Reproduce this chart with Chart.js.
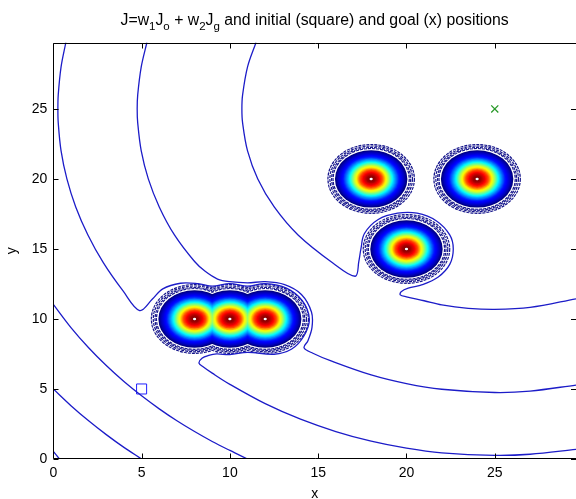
<!DOCTYPE html>
<html><head><meta charset="utf-8">
<script src="https://cdn.jsdelivr.net/npm/chart.js@4.4.0/dist/chart.umd.min.js"></script>
<style>html,body{margin:0;padding:0;background:#fff;}#wrap{width:576px;height:499px;}</style>
</head><body><div id="wrap"><canvas id="c" width="576" height="499"></canvas></div>
<script>
// ---- data ----
const xTicks = [0, 5, 10, 15, 20, 25];
const yTicks = [0, 5, 10, 15, 20, 25];
const xMax = 29.6, yMax = 29.74;

// obstacle centres and the radii of their contour rings / filled levels (data units)
const obstacles = [{x:8,y:10},{x:10,y:10},{x:12,y:10},{x:18,y:20},{x:24,y:20},{x:20,y:15}];
const ringRadii = [2.42, 2.31, 2.21, 2.13];
const fillRadius = [2.05, 1.9, 1.6, 1.25, 1.0, 0.85, 0.66, 0.45, 0.25, 0.1];
const fillLevel  = [0.0, 0.06, 0.15, 0.36, 0.55, 0.64, 0.8, 0.9, 0.97, 1.0];

// contour lines of J
const contourA = [{x:0,y:0.55},{x:0.35,y:0}];
const contourB = [{x:0,y:5},{x:1,y:3.81},{x:2,y:2.73},{x:3,y:1.74},{x:4,y:0.83},{x:5,y:0}];
const contourC = [{x:0,y:11.04},{x:1,y:9.38},{x:2,y:7.94},{x:3,y:6.67},{x:4,y:5.53},{x:5,y:4.51},
  {x:6,y:3.58},{x:7,y:2.73},{x:8,y:1.96},{x:9,y:1.25},{x:10,y:0.61},{x:11,y:0}];
const contourD = [{x:0.71,y:29.74},{x:0.44,y:28},{x:0.28,y:26},{x:0.26,y:25},{x:0.28,y:24},{x:0.44,y:22},
  {x:0.77,y:20},{x:1.27,y:18},{x:1.96,y:16},{x:2.84,y:14},{x:3.95,y:12},{x:4.89,y:10.6},
  {x:5.6,y:11.4},{x:6.2,y:12.15},{x:7.2,y:12.55},{x:8.2,y:12.52},{x:9,y:12.35},{x:10,y:12.52},{x:11,y:12.35},
  {x:12,y:12.52},{x:13.2,y:12.2},{x:14.1,y:11.3},{x:14.5,y:10},{x:14.2,y:8.8},{x:13.5,y:7.85},
  {x:12.5,y:7.48},{x:11,y:7.62},{x:10,y:7.45},{x:9.25,y:7.5},{x:8.8,y:7.4},{x:8.42,y:7.2},{x:8.25,y:6.85},
  {x:8.5,y:6.57},{x:9,y:6.13},{x:10,y:5.33},{x:12,y:3.95},{x:14,y:2.84},{x:16,y:1.96},{x:18,y:1.27},
  {x:20,y:0.77},{x:22,y:0.44},{x:25,y:0.26},{x:27,y:0.34},{x:29.6,y:0.69}];
const contourE = [{x:5.3,y:29.74},{x:4.98,y:28},{x:4.78,y:26},{x:4.75,y:25},{x:4.78,y:24},{x:4.98,y:22},
  {x:5.38,y:20},{x:6.0,y:18},{x:6.86,y:16},{x:8.0,y:14.1},{x:8.6,y:13.4},{x:9.3,y:12.85},{x:10,y:12.66},
  {x:11,y:12.58},{x:12,y:12.66},{x:13.1,y:12.45},{x:14.05,y:11.75},{x:14.62,y:10.5},{x:14.65,y:9.4},
  {x:14.42,y:8.45},{x:14.2,y:7.95},{x:14.7,y:7.55},{x:15.73,y:7.0},{x:18,y:6.0},{x:20,y:5.38},
  {x:22,y:4.98},{x:25,y:4.75},{x:27,y:4.85},{x:29.6,y:5.28}];
const contourG = [{x:11.48,y:29.74},{x:11.0,y:28},{x:10.72,y:26},{x:10.68,y:25},{x:10.72,y:24},{x:11.0,y:22},
  {x:11.58,y:20},{x:12.51,y:18},{x:13.86,y:16},{x:15.83,y:14},{x:17.1,y:13.05},{x:17.3,y:14.1},
  {x:17.42,y:15.0},{x:17.62,y:16.1},{x:18.4,y:17.1},{x:19.5,y:17.55},{x:20.6,y:17.55},{x:21.7,y:17.0},
  {x:22.45,y:16.0},{x:22.65,y:15.0},{x:22.45,y:13.9},{x:21.8,y:13.0},{x:20.9,y:12.45},{x:20.1,y:12.2},
  {x:19.7,y:11.95},{x:19.65,y:11.72},{x:20.0,y:11.58},{x:21,y:11.3},{x:22,y:11.0},{x:23.5,y:10.76},
  {x:25,y:10.68},{x:27,y:10.82},{x:29.6,y:11.44}];
const contours = [contourA, contourB, contourC, contourD, contourE, contourG];

const startPos = [{x:5, y:5}];
const goalPos  = [{x:25, y:25}];

const titleParts = [["J=w",0],["1",1],["J",0],["o",1],[" + w",0],["2",1],["J",0],["g",1],[" and initial (square) and goal (x) positions",0]];

// ---- styling helpers ----
const FONT = 'Arial, "Liberation Sans", Helvetica, sans-serif';
const lineColor = 'rgb(28,28,200)';
const ringColor = 'rgb(22,22,140)';
function jet(t){
  const c = v => Math.round(255*Math.max(0, Math.min(1, v)));
  return `rgb(${c(1.5-Math.abs(4*t-3))},${c(1.5-Math.abs(4*t-2))},${c(1.5-Math.abs(4*t-1))})`;
}
function levelAt(r){
  for (let i=0;i<fillRadius.length-1;i++){
    const a=fillRadius[i], b=fillRadius[i+1];
    if (r<=a && r>=b){ const f=(a-r)/(a-b); return fillLevel[i]+f*(fillLevel[i+1]-fillLevel[i]); }
  }
  return r>fillRadius[0]?fillLevel[0]:fillLevel[fillLevel.length-1];
}

const blobPlugin = {
  id:'blobs',
  beforeDatasetsDraw(chart){
    const {ctx, chartArea:a, scales:{x, y}} = chart;
    const sx = Math.abs(x.getPixelForValue(1)-x.getPixelForValue(0));
    const sy = Math.abs(y.getPixelForValue(0)-y.getPixelForValue(1));
    const ell = (o, r) => { ctx.beginPath(); ctx.ellipse(x.getPixelForValue(o.x), y.getPixelForValue(o.y), r*sx, r*sy, 0, 0, 2*Math.PI); };
    ctx.save();
    ctx.beginPath(); ctx.rect(a.left, a.top, a.right-a.left, a.bottom-a.top); ctx.clip();
    ringRadii.forEach(r => {
      ctx.strokeStyle = ringColor; ctx.lineWidth = 2.2; ctx.setLineDash([3,1]);
      obstacles.forEach(o => { ell(o, r); ctx.stroke(); });
      ctx.setLineDash([]); ctx.fillStyle = '#fff';
      obstacles.forEach(o => { ell(o, r); ctx.fill(); });
    });
    const r0 = fillRadius[0], r1 = fillRadius[fillRadius.length-1], N = 40;
    for (let k=0;k<N;k++){
      const r = r0 - k*(r0-r1)/(N-1);
      ctx.fillStyle = jet(levelAt(r));
      obstacles.forEach(o => { ell(o, r); ctx.fill(); });
    }
    ctx.fillStyle = '#fff';
    obstacles.forEach(o => { ell(o, 0.09); ctx.fill(); });
    ctx.restore();
  }
};

const framePlugin = {
  id:'frame',
  afterDraw(chart){
    const {ctx, chartArea:a, scales:{x, y}} = chart;
    ctx.save();
    ctx.strokeStyle = '#000'; ctx.lineWidth = 1;
    const L = Math.round(a.left)+0.5, T = Math.round(a.top)+0.5, B = Math.round(a.bottom)-0.5, R = a.right;
    ctx.beginPath();
    ctx.moveTo(L, T); ctx.lineTo(R+2, T);
    ctx.moveTo(L, T); ctx.lineTo(L, B);
    ctx.moveTo(L, B); ctx.lineTo(R+2, B);
    const tl = 5;
    xTicks.forEach(v => { const p = Math.round(x.getPixelForValue(v))+0.5; ctx.moveTo(p, B); ctx.lineTo(p, B-tl); ctx.moveTo(p, T); ctx.lineTo(p, T+tl); });
    yTicks.forEach(v => { const p = Math.round(y.getPixelForValue(v))+0.5; ctx.moveTo(L, p); ctx.lineTo(L+tl, p); ctx.moveTo(R, p); ctx.lineTo(R-tl, p); });
    ctx.stroke();
    // title with subscripts
    const big = 15.8, small = 11.5;
    ctx.fillStyle = '#000'; ctx.textBaseline = 'alphabetic';
    let w = 0;
    titleParts.forEach(([t, s]) => { ctx.font = `${s?small:big}px ${FONT}`; w += ctx.measureText(t).width; });
    let cx = (a.left + a.right)/2 - w/2; const by = 25;
    titleParts.forEach(([t, s]) => { ctx.font = `${s?small:big}px ${FONT}`; ctx.fillText(t, cx, by + (s?5:0)); cx += ctx.measureText(t).width; });
    ctx.restore();
  }
};

const tickFont = {family: FONT, size: 14};
new Chart(document.getElementById('c'), {
  type: 'scatter',
  data: { datasets: [
    ...contours.map(c => ({ data: c, showLine: true, borderColor: lineColor, borderWidth: 1.3, pointRadius: 0, tension: 0.35, fill: false })),
    { data: startPos, pointStyle: 'rect', pointRadius: 7.1, borderColor: '#2020ff', backgroundColor: 'rgba(0,0,0,0)', borderWidth: 1 },
    { data: goalPos, pointStyle: 'crossRot', pointRadius: 5, borderColor: '#2a9a2a', borderWidth: 1.3 }
  ]},
  options: {
    responsive: false, animation: false, devicePixelRatio: 1,
    layout: { autoPadding: false, padding: { top: 42.5, left: 0, right: 0, bottom: 0 } },
    plugins: { legend: { display: false }, tooltip: { enabled: false }, title: { display: false } },
    scales: {
      x: { type: 'linear', min: 0, max: xMax,
        afterBuildTicks: s => { s.ticks = xTicks.map(v => ({value: v})); },
        afterFit: s => { s.height = 40; },
        grid: { display: false, drawTicks: false }, border: { display: false },
        ticks: { font: tickFont, color: '#000', padding: 6, maxRotation: 0, autoSkip: false },
        title: { display: true, text: 'x', color: '#000', font: {family: FONT, size: 14, lineHeight: 0.72}, padding: {top:0, bottom: 0} } },
      y: { type: 'linear', min: 0, max: yMax,
        afterBuildTicks: s => { s.ticks = yTicks.map(v => ({value: v})); },
        afterFit: s => { s.width = 53.3; },
        grid: { display: false, drawTicks: false }, border: { display: false },
        ticks: { font: tickFont, color: '#000', padding: 6, autoSkip: false },
        title: { display: true, text: 'y', color: '#000', font: {family: FONT, size: 14, lineHeight: 1}, padding: {top: 5, bottom: 0} } }
    }
  },
  plugins: [blobPlugin, framePlugin]
});
</script></body></html>
